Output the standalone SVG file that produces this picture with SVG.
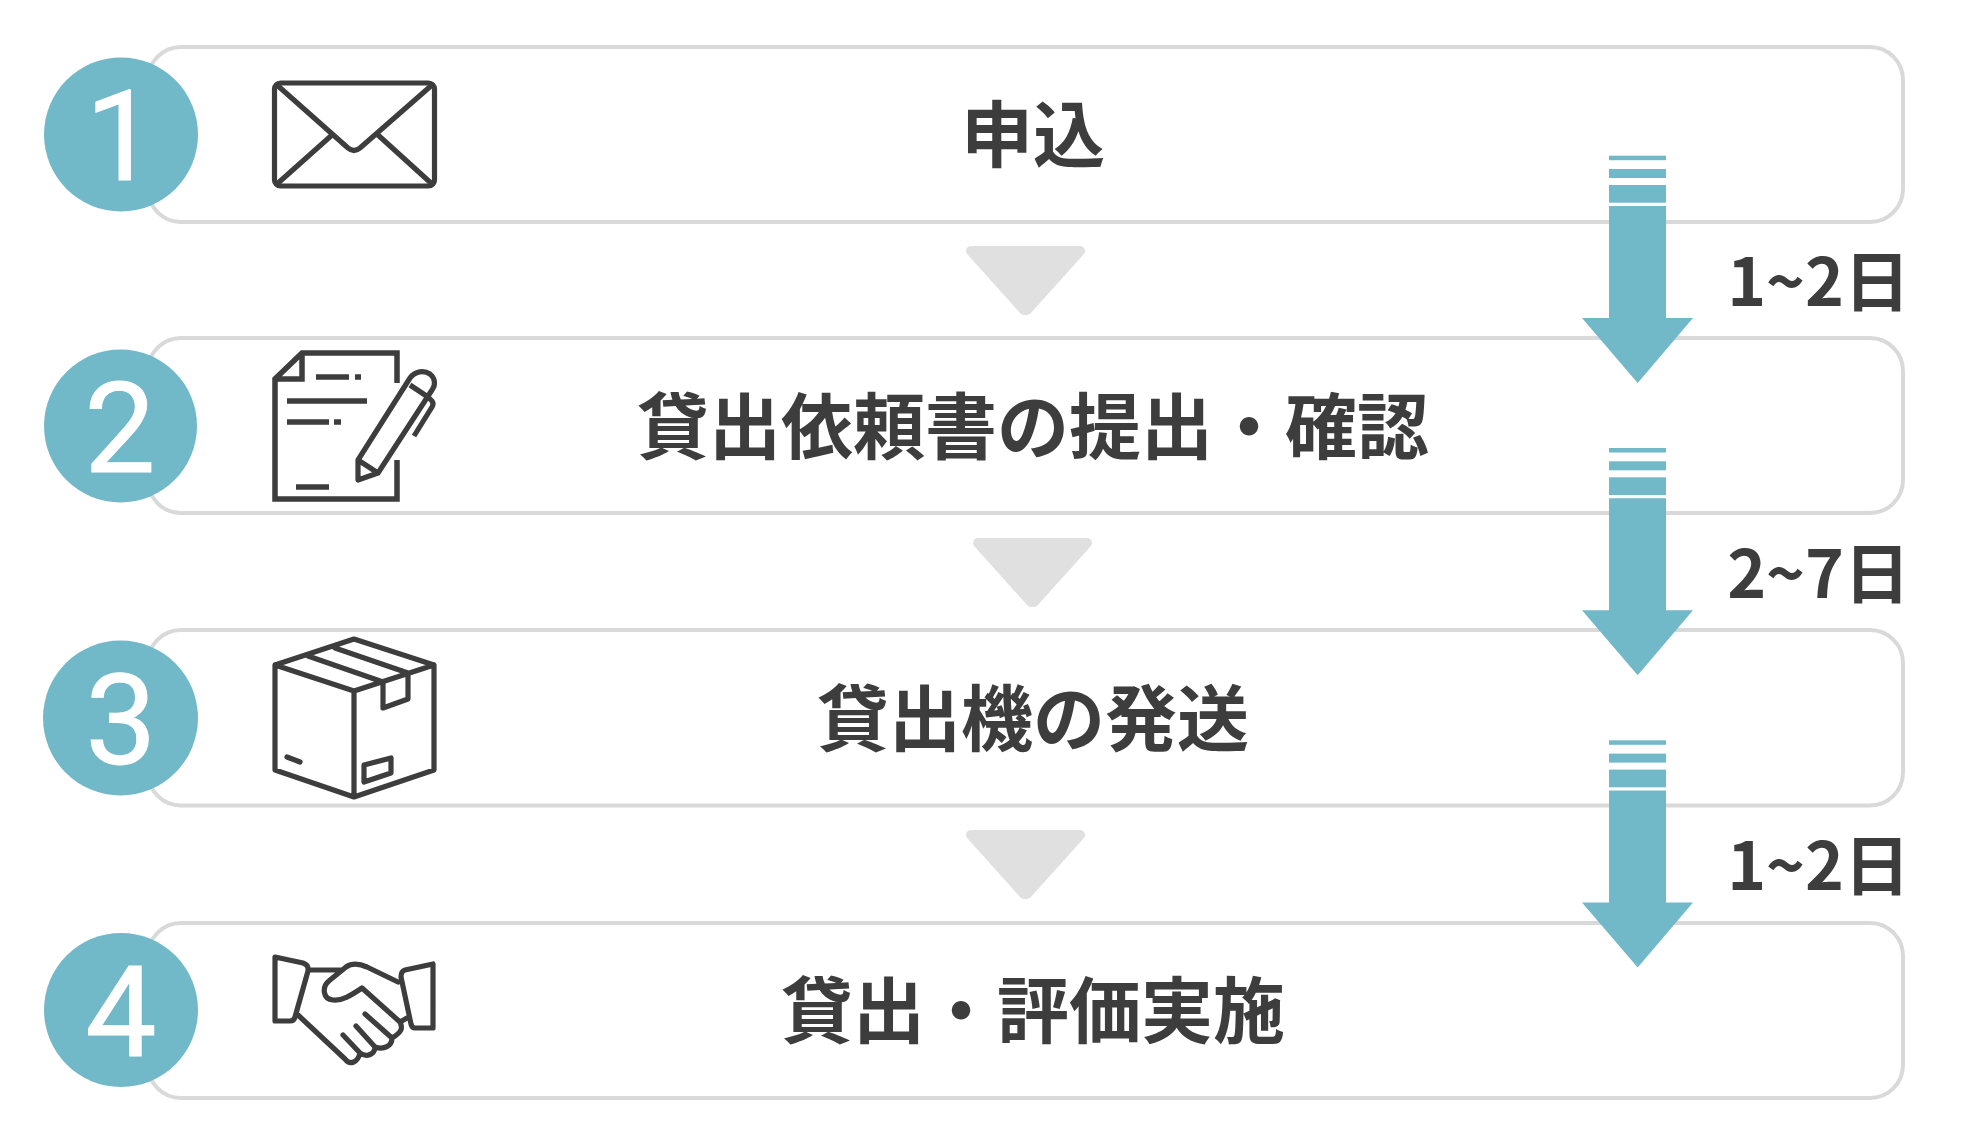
<svg xmlns="http://www.w3.org/2000/svg" width="1961" height="1136" viewBox="0 0 1961 1136">
<style>
.box{fill:#fff;stroke:#d9d9d9;stroke-width:4}
.num{fill:#71b9c8}
.numt{fill:#fff;stroke:#fff;stroke-width:.8;font-family:Roboto,sans-serif;font-size:127px;text-anchor:middle}
.t{fill:#3d3d3d;font-family:"Noto Sans CJK JP",sans-serif;font-weight:700;font-size:72px;text-anchor:middle}
.d{fill:#3d3d3d;font-family:"Noto Sans CJK JP",sans-serif;font-weight:700;font-size:66px;text-anchor:end}
.ic{fill:none;stroke:#3d3d3d;stroke-width:5.2;stroke-linejoin:round;stroke-linecap:round}
.sq{fill:none;stroke:#3d3d3d;stroke-width:5.5;stroke-linejoin:miter;stroke-linecap:butt}
.tri{fill:#e0e0e0;stroke:#e0e0e0;stroke-width:10;stroke-linejoin:round}
.ar{fill:#71b9c8}
</style>
<defs>
<g id="arrow"><rect class="ar" x="1609" y="155.7" width="57" height="4.5"/><rect class="ar" x="1609" y="169" width="57" height="9"/><rect class="ar" x="1609" y="185" width="57" height="17.7"/><path class="ar" d="M1609 206H1666V318H1693L1637.7 383L1582 318H1609Z"/></g>
</defs>
<g id="node1"><rect class="box" x="148" y="47" width="1755" height="175" rx="33"/><circle class="num" cx="121" cy="134.500" r="77"/><text class="numt" x="121" y="180">1</text>
<g class="ic"><rect x="274.500" y="83" width="160" height="103" rx="6"/><path d="M277 85L348 148Q354 153 360 148L432 85M277 184L332 135M432 184L378 135"/></g>
<text class="t" x="1033" y="161">申込</text></g>
<g id="node2"><rect class="box" x="148" y="338" width="1755" height="175" rx="33"/><circle class="num" cx="120.500" cy="426" r="76.500"/><text class="numt" x="120" y="472">2</text>
<path class="sq" d="M397 383V353H302L275 379V499H397V460M302 353V379H275M316 377H349M355 377H361M287 401H367M287 422H329M334 422H341M296 487H329"/>
<g class="ic"><path d="M358 460L410 378C415 371 424 370 430 374C435 378 436 385 432 390L378 473L358 480ZM358 460L378 473M410 385L428 397M428 397L432 401Q434 404 432 407L414 436" stroke-linecap="butt"/></g>
<text class="t" x="1033" y="453">貸出依頼書の提出・確認</text></g>
<g id="node3"><rect class="box" x="148" y="630" width="1755" height="175.500" rx="33"/><circle class="num" cx="120.500" cy="718" r="77.500"/><text class="numt" x="121" y="764">3</text>
<g class="ic"><path d="M354 639L434 665V770L354 797L275 770V665ZM275 665L354 691L434 665M354 691V797M308 656L383 682M335 648L408 673M383 682V708L408 699V673M287 757L300 762M364 765L391 758V773L364 782Z"/></g>
<text class="t" x="1033" y="745">貸出機の発送</text></g>
<g id="node4"><rect class="box" x="148" y="923" width="1755" height="175" rx="33"/><circle class="num" cx="121" cy="1010" r="77"/><text class="numt" x="121" y="1056">4</text>
<g class="ic"><path d="M275 957L303 963Q309 965 308 971L295 1017Q294 1021 290 1021H275ZM433 964V1028H415Q412 1028 411 1024L401 977Q401 971 405 970ZM309 970H342M398 982L367 967C358 963 352 963 346 967L330 980C321 987 323 999 333 1000C342 1001 350 996 362 988L400 1022C403 1028 402 1032 392 1038C392 1046 384 1050 375 1047C375 1054 367 1058 360 1053C358 1062 350 1066 345 1059L298 1015M365 1014L392 1038M356 1026L375 1047M343 1035L360 1053M400 1022L407 1018"/></g>
<text class="t" x="1033" y="1037">貸出・評価実施</text></g>
<g id="connectors">
<path class="tri" d="M971 251H1080L1027 310H1024Z"/>
<path class="tri" d="M978 543H1087L1034 602H1031Z"/>
<path class="tri" d="M971 835H1080L1027 894H1024Z"/>
<use href="#arrow"/><use href="#arrow" y="292.300"/><use href="#arrow" y="584.600"/>
</g>
<g id="labels"><text class="d" x="1910" y="305.600">1~2日</text><text class="d" x="1910" y="597.900">2~7日</text><text class="d" x="1910" y="890.200">1~2日</text></g>
</svg>
